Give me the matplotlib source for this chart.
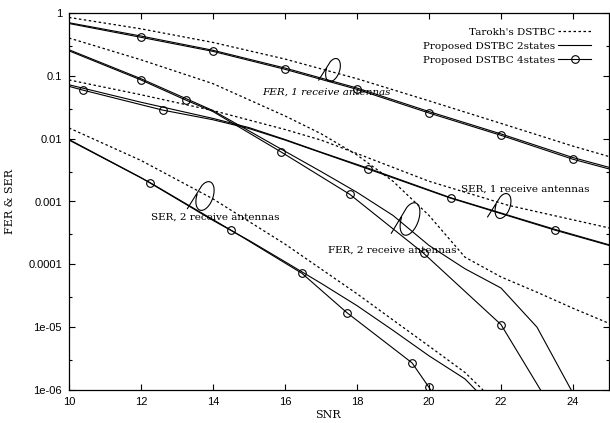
import numpy as np
import matplotlib
matplotlib.use("Agg")
import matplotlib.pyplot as plt

# ---- data ----
# FER, 1 receive antenna
snr_fer1 = [10, 12, 14, 16, 18, 20, 22, 24, 25]
fer1_4st = [0.68, 0.41, 0.245, 0.127, 0.061, 0.0256, 0.0113, 0.0047, 0.0033]
fer1_2st = [0.70, 0.43, 0.255, 0.133, 0.064, 0.027, 0.0119, 0.0050, 0.0035]
fer1_tar = [0.85, 0.56, 0.34, 0.185, 0.09, 0.04, 0.0175, 0.0076, 0.0052]
fer1_marks = [1, 2, 3, 4, 5, 6, 7]

# SER, 1 receive antenna
snr_ser1_4st = [10, 10.4, 12.6, 14, 15, 16, 17, 18.3, 20.6, 23.5, 25]
ser1_4st = [0.068, 0.059, 0.0285, 0.02, 0.0145, 0.0095, 0.006, 0.0033, 0.00113, 0.00035, 0.0002]
ser1_marks = [1, 2, 7, 8, 9]
snr_ser1_2st = [10, 12, 14, 15, 16, 17, 18.3, 20.6, 23.5, 25]
ser1_2st = [0.072, 0.038, 0.021, 0.015, 0.0097, 0.0061, 0.0034, 0.00115, 0.00036, 0.000205]
snr_ser1_tar = [10, 12, 14, 16, 17, 18, 20, 22.2, 25]
ser1_tar = [0.086, 0.05, 0.028, 0.014, 0.0095, 0.0058, 0.0021, 0.00087, 0.00038]

# FER, 2 receive antennas
snr_fer2_4st = [10, 12, 13.25, 14, 15.9, 17.8, 19.85, 22, 23.1]
fer2_4st = [0.25, 0.086, 0.041, 0.027, 0.0061, 0.0013, 0.00015, 1.1e-5, 1e-6]
fer2_marks = [1, 2, 4, 5, 6, 7]
snr_fer2_2st = [10, 12, 14, 16, 17, 18, 19, 20, 21, 22, 23, 23.95]
fer2_2st = [0.26, 0.09, 0.028, 0.0063, 0.003, 0.0014, 0.0006, 0.0002, 8.5e-5, 4.2e-5, 1e-5, 1e-6]
snr_fer2_tar = [10, 12, 14, 16, 17, 18, 19, 20, 21, 22, 23, 24, 25]
fer2_tar = [0.4, 0.18, 0.075, 0.023, 0.012, 0.0055, 0.0021, 0.0006, 0.00013, 6.3e-5, 3.6e-5, 2e-5, 1.15e-5]

# SER, 2 receive antennas
snr_ser2_4st = [10, 12.25, 14.5, 16.47, 17.72, 19.53, 20.0, 20.1]
ser2_4st = [0.0095, 0.002, 0.00035, 7.2e-5, 1.7e-5, 2.7e-6, 1.1e-6, 9e-7]
ser2_marks = [1, 2, 3, 4, 5, 6]
snr_ser2_2st = [10, 12, 14, 15, 16, 17, 18, 19, 20, 21, 21.3]
ser2_2st = [0.0097, 0.0024, 0.0005, 0.00024, 0.00011, 5e-5, 2.2e-5, 8.9e-6, 3.5e-6, 1.5e-6, 1e-6]
snr_ser2_tar = [10, 12, 14, 16, 18, 19, 20, 21, 21.5]
ser2_tar = [0.0148, 0.0045, 0.0011, 0.00021, 3.4e-5, 1.3e-5, 5e-6, 1.9e-6, 1e-6]

xticks = [10, 12, 14, 16, 18, 20, 22, 24]
yticks = [1, 0.1, 0.01, 0.001, 0.0001, 1e-5, 1e-6]
ytick_labels = ["1", "0.1", "0.01", "0.001", "0.0001", "1e-05", "1e-06"]

legend_labels = ["Tarokh's DSTBC", "Proposed DSTBC 2states", "Proposed DSTBC 4states"]

# group labels: text, x, y, italic
group_labels = [("FER, 1 receive antennas", 15.36, 0.055, True),
                ("SER, 1 receive antennas", 20.9, 0.0016, False),
                ("FER, 2 receive antennas", 17.2, 1.7e-4, False),
                ("SER, 2 receive antennas", 12.28, 5.6e-4, False)]

# hand drawn loops, in pixels: centre x, centre y, width, height
loops_px = [(333, 70, 13, 24), (503, 206, 14, 26), (410, 219, 17, 34), (205, 196, 16, 30)]

# ---- figure ----
W, H = 610, 423
fig = plt.figure(figsize=(W / 100, H / 100), dpi=100)
ax_l, ax_r, ax_t, ax_b = 69, 609, 13, 390
ax = fig.add_axes([ax_l / W, 1 - ax_b / H, (ax_r - ax_l) / W, (ax_b - ax_t) / H])

dot = dict(color='k', lw=0.9, linestyle=(0, (2, 2)))
sol = dict(color='k', lw=0.8)
circ = dict(color='k', lw=0.8, marker='o', ms=5.5, mfc='none', mec='k', mew=0.8)

ax.plot(snr_fer1, fer1_tar, label=legend_labels[0], **dot)
ax.plot(snr_fer1, fer1_2st, label=legend_labels[1], **sol)
ax.plot(snr_fer1, fer1_4st, label=legend_labels[2], markevery=fer1_marks, **circ)

ax.plot(snr_ser1_tar, ser1_tar, **dot)
ax.plot(snr_ser1_2st, ser1_2st, **sol)
ax.plot(snr_ser1_4st, ser1_4st, markevery=ser1_marks, **circ)

ax.plot(snr_fer2_tar, fer2_tar, **dot)
ax.plot(snr_fer2_2st, fer2_2st, **sol)
ax.plot(snr_fer2_4st, fer2_4st, markevery=fer2_marks, **circ)

ax.plot(snr_ser2_tar, ser2_tar, **dot)
ax.plot(snr_ser2_2st, ser2_2st, **sol)
ax.plot(snr_ser2_4st, ser2_4st, markevery=ser2_marks, **circ)

ax.set_yscale('log')
ax.set_xlim(10, 25)
ax.set_ylim(1e-6, 1)
ax.set_xticks(xticks)
ax.set_xticklabels([str(v) for v in xticks], family='Liberation Sans', fontsize=8)
ax.set_yticks(yticks)
ax.set_yticklabels(ytick_labels, family='Liberation Sans', fontsize=8)
ax.yaxis.set_minor_locator(matplotlib.ticker.FixedLocator([3 * 10.0 ** k for k in range(-6, 0)]))
ax.yaxis.set_minor_formatter(matplotlib.ticker.NullFormatter())
ax.tick_params(which='both', direction='in', top=True, right=True, width=0.8)
ax.tick_params(which='major', length=4, pad=5)
ax.tick_params(which='minor', length=2.5)
for s in ax.spines.values():
    s.set_linewidth(0.9)

ax.set_xlabel("SNR", family='DejaVu Serif', fontsize=8)
ax.xaxis.set_label_coords((328 - ax_l) / (ax_r - ax_l), -0.052)
ax.set_ylabel("FER & SER", family='DejaVu Serif', fontsize=8)
ax.yaxis.set_label_coords(-0.1, 0.5)

leg = ax.legend(loc='upper right', bbox_to_anchor=(0.975, 0.972), frameon=False,
                markerfirst=False, handlelength=3.2, handletextpad=0.3,
                borderaxespad=0, labelspacing=0.45, numpoints=1,
                prop={'family': 'DejaVu Serif', 'size': 7.5})

for txt, x, y, it in group_labels:
    ax.text(x, y, txt, family='DejaVu Serif', fontsize=7.5, va='center', ha='left',
            style='italic' if it else 'normal')

# hand drawn loops: a tilted, nearly closed ellipse with a short tail at the bottom left
t = np.linspace(np.deg2rad(215), np.deg2rad(215 + 320), 80)
rot = np.deg2rad(20)
for cx, cy, w, h in loops_px:
    ex = 0.5 * w * np.cos(t)
    ey = 0.5 * h * np.sin(t)
    px = cx + ex * np.cos(rot) - ey * np.sin(rot)
    py = cy + ex * np.sin(rot) + ey * np.cos(rot)
    px = np.concatenate([[cx - 1.1 * w], px])
    py = np.concatenate([[cy + 0.42 * h], py])
    ax.plot((px - ax_l) / (ax_r - ax_l), (ax_b - py) / (ax_b - ax_t), color='k', lw=0.8,
            transform=ax.transAxes, clip_on=False)

fig.savefig("out.png", dpi=100)
